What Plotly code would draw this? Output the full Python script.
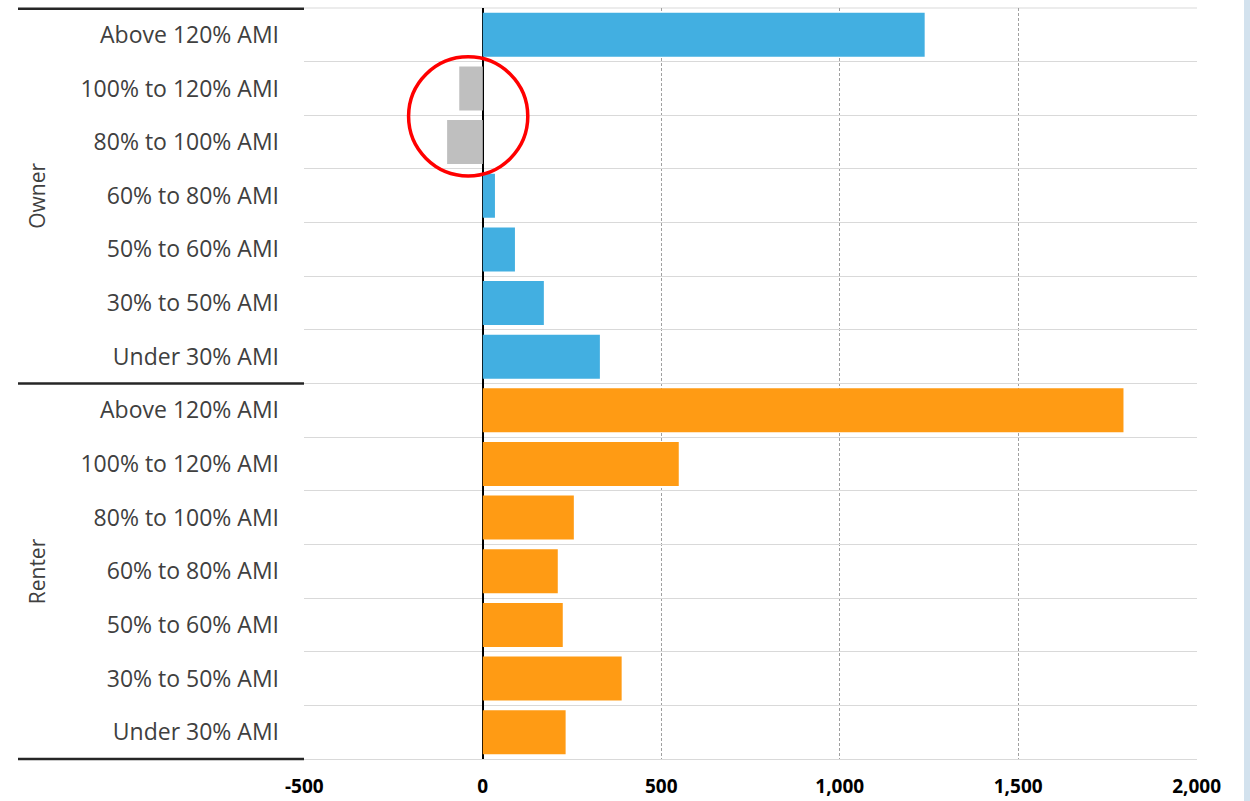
import plotly.graph_objects as go

income_bands = ["Under 30% AMI", "30% to 50% AMI", "50% to 60% AMI", "60% to 80% AMI",
                "80% to 100% AMI", "100% to 120% AMI", "Above 120% AMI"]
owner_values = [328, 171, 90, 34, -100, -66, 1238]
renter_values = [232, 389, 224, 210, 255, 549, 1795]
x_tick_values = [-500, 0, 500, 1000, 1500, 2000]
x_tick_labels = ["-500", "0", "500", "1,000", "1,500", "2,000"]

owner_color = "#42AFE1"
renter_color = "#FF9B14"
negative_color = "#BFBFBF"

keys = [f"Renter|{b}" for b in income_bands] + [f"Owner|{b}" for b in income_bands]
labels = income_bands + income_bands
values = renter_values + owner_values
colors = [renter_color] * len(renter_values) + [
    (negative_color if v < 0 else owner_color) for v in owner_values]

fig = go.Figure(go.Bar(
    x=values, y=keys, orientation="h",
    marker=dict(color=colors, line=dict(width=0)),
    hoverinfo="x+y",
))

font_family = "'Open Sans', sans-serif"

fig.update_layout(
    template="none",
    width=1250, height=801,
    margin=dict(l=304, r=53, t=8, b=42, autoexpand=False),
    paper_bgcolor="white", plot_bgcolor="white",
    bargap=0.18, showlegend=False,
    font=dict(family=font_family, color="#404040"),
)
fig.update_xaxes(
    automargin=False,
    range=[-501, 2001], tickvals=x_tick_values, ticktext=x_tick_labels,
    showgrid=True, gridcolor="#A0A0A0", griddash="3px,2px", gridwidth=1,
    zeroline=True, zerolinecolor="black", zerolinewidth=2,
    showline=True, linecolor="#D9D9D9", linewidth=1, mirror=False,
    tickfont=dict(size=19, color="black", family=font_family, weight="bold"),
    ticks="", ticklabelstandoff=10,
)
fig.update_yaxes(
    automargin=False,
    type="category", categoryorder="array", categoryarray=keys,
    tickvals=keys, ticktext=labels, tickson="boundaries",
    showgrid=True, gridcolor="#D9D9D9", gridwidth=1,
    zeroline=False, showline=False,
    ticks="", ticklabelstandoff=24,
    tickfont=dict(size=23, color="#404040", family=font_family),
    range=[-0.5, 13.5],
)

x_left = (18 - 304) / 893
# light top border of plot area
fig.add_shape(type="line", xref="paper", yref="paper", x0=0, x1=1, y0=1, y1=1,
              line=dict(color="#D9D9D9", width=1), layer="below")
for yb in [0, 0.5]:
    fig.add_shape(type="line", xref="paper", yref="paper", x0=x_left, x1=0, y0=yb, y1=yb,
                  line=dict(color="#262626", width=2.5), layer="above")
fig.add_shape(type="line", xref="paper", yref="paper", x0=x_left, x1=0, y0=0.999, y1=0.999,
              line=dict(color="#262626", width=2.5), layer="above")

for name, yc in [("Owner", 10), ("Renter", 3)]:
    fig.add_annotation(text=name, xref="paper", yref="y", x=(37 - 304) / 893, y=yc,
                       xanchor="center", yanchor="middle",
                       textangle=-90, showarrow=False,
                       font=dict(size=21, color="#404040", family=font_family))

# red highlight circle around negative bars
fig.add_shape(type="circle", xref="x", yref="y", x0=-208, x1=126, y0=10.37, y1=12.59,
              line=dict(color="#FF0000", width=3.5), layer="above")

# pale strip at right edge of the screenshot
fig.add_shape(type="rect", xref="paper", yref="paper", x0=(1244 - 304) / 893, x1=(1252 - 304) / 893,
              y0=-0.06, y1=1.02, line=dict(width=0), fillcolor="#D3E2EE", layer="above")

fig.write_html("out.html")
